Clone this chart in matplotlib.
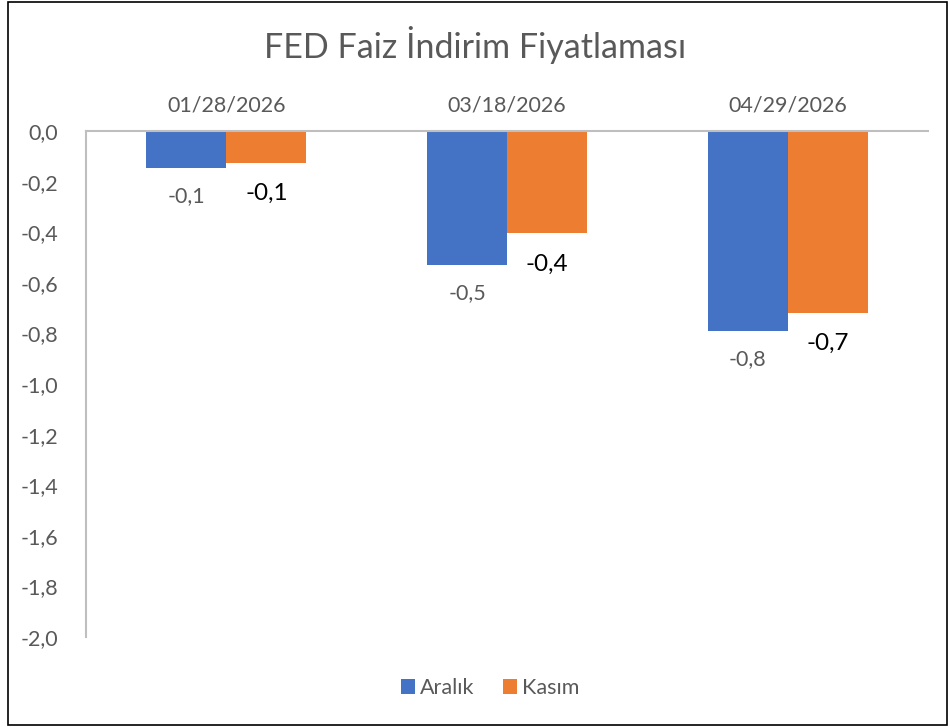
import numpy as np
import matplotlib
matplotlib.use("Agg")
import matplotlib.pyplot as plt
from matplotlib.patches import Rectangle

plt.rcParams['font.family'] = ['Lato', 'DejaVu Sans']

# data
dates = ['01/28/2026', '03/18/2026', '04/29/2026']
aralik = [-0.146, -0.53, -0.79]
kasim = [-0.127, -0.405, -0.72]
aralik_labels = ['-0,1', '-0,5', '-0,8']
kasim_labels = ['-0,1', '-0,4', '-0,7']
yticks = [0.0, -0.2, -0.4, -0.6, -0.8, -1.0, -1.2, -1.4, -1.6, -1.8, -2.0]

blue = '#4472C4'
orange = '#ED7D31'
gray = '#595959'

fig = plt.figure(figsize=(9.5, 7.27), dpi=100)
ax = fig.add_axes([86 / 950, 1 - 637 / 727, 842 / 950, 506 / 727])

x = np.arange(len(dates))
w = 0.285
b1 = ax.bar(x - w / 2, aralik, w, color=blue, label='Aralık')
b2 = ax.bar(x + w / 2, kasim, w, color=orange, label='Kasım')

for rect, lab in zip(b1, aralik_labels):
    ax.annotate(lab, (rect.get_x() + rect.get_width() / 2, rect.get_height()),
                xytext=(0, -20), textcoords='offset points', ha='center', va='center',
                fontsize=15.5, color=gray)
for rect, lab in zip(b2, kasim_labels):
    ax.annotate(lab, (rect.get_x() + rect.get_width() / 2, rect.get_height()),
                xytext=(0, -22), textcoords='offset points', ha='center', va='center',
                fontsize=17.5, color='black')

ax.set_xlim(-0.5, 2.5)
ax.set_ylim(-2.0, 0.0)
ax.set_yticks(yticks)
ax.set_yticklabels([f'{v:.1f}'.replace('.', ',') for v in yticks], fontsize=15.5, color=gray)
ax.set_xticks(x)
ax.set_xticklabels(dates, fontsize=15.5, color=gray)
ax.xaxis.tick_top()
ax.tick_params(axis='both', length=0)
ax.tick_params(axis='x', pad=11)
ax.tick_params(axis='y', pad=20)
for lab in ax.get_yticklabels():
    lab.set_horizontalalignment('right')

for s in ['right', 'bottom']:
    ax.spines[s].set_visible(False)
ax.spines['top'].set_color('#BFBFBF')
ax.spines['left'].set_color('#BFBFBF')
ax.spines['top'].set_linewidth(1.5)
ax.spines['left'].set_linewidth(1.5)

fig.text(0.5, 1 - 45 / 727, 'FED Faiz İndirim Fiyatlaması', ha='center', va='center',
         fontsize=24.5, color=gray)

fig.legend(handles=[b1, b2], loc='center', bbox_to_anchor=(490 / 950, 1 - 688 / 727),
           ncol=2, frameon=False, fontsize=15.5, labelcolor=gray,
           handlelength=0.65, handleheight=0.65, handletextpad=0.25, columnspacing=1.3)

fig.patches.append(Rectangle((8 / 950, 2 / 727), 939 / 950, 723 / 727, transform=fig.transFigure,
                             fill=False, edgecolor='black', linewidth=1.2))

fig.savefig('out.png', dpi=100)
